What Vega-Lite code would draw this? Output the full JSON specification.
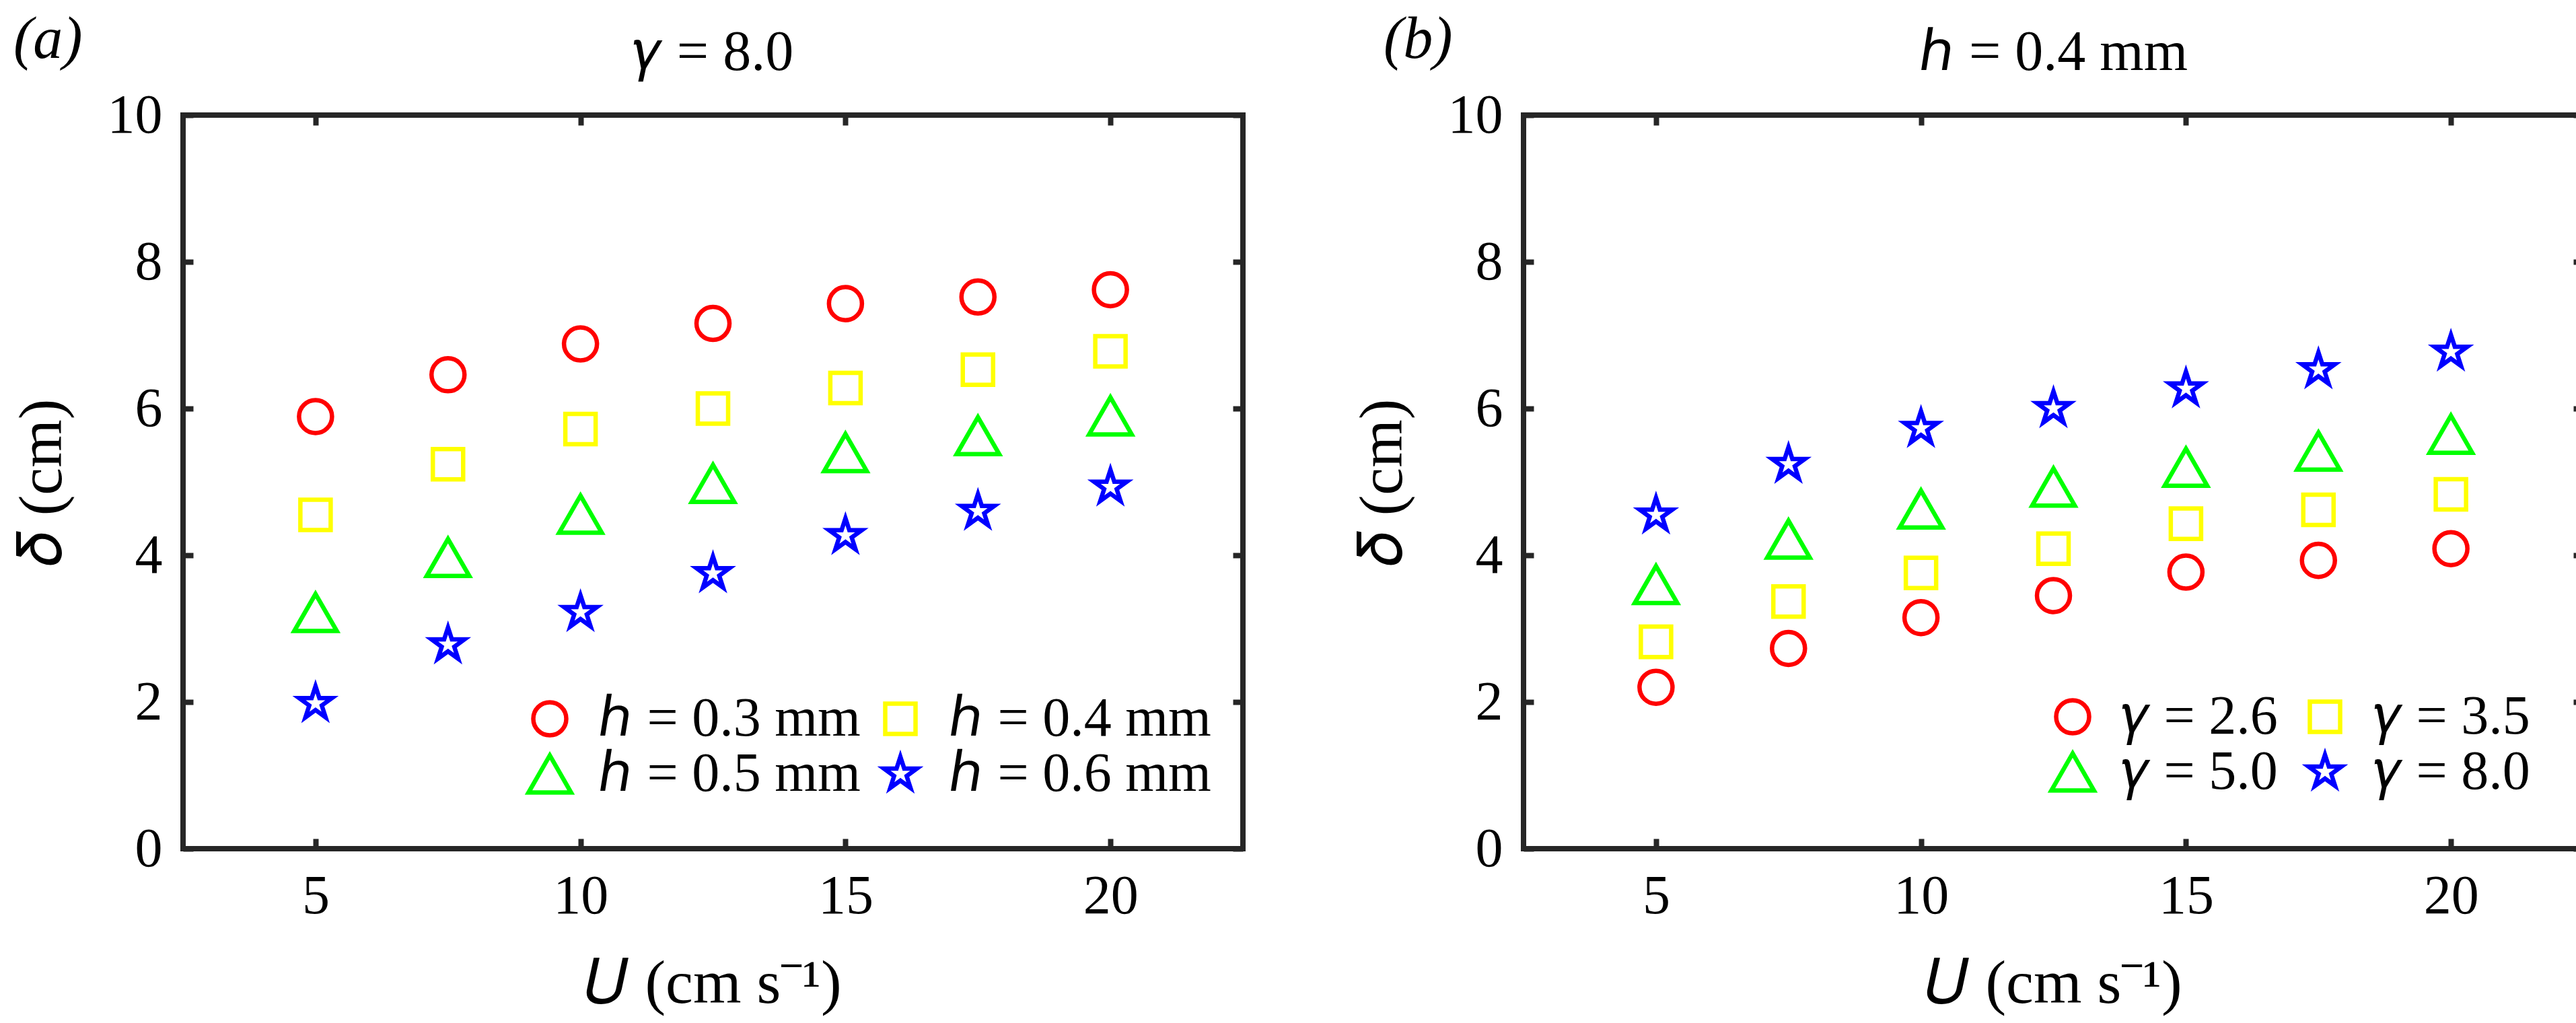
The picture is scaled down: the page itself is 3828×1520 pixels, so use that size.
{
  "$schema": "https://vega.github.io/schema/vega-lite/v6.json",
  "background": "white",
  "padding": {"left": 12, "top": 12, "right": 0, "bottom": 0},
  "spacing": 149,
  "datasets": {
    "a": [
      {"U": 5, "d": 5.89, "s": "ℎ = 0.3 mm"},
      {"U": 7.5, "d": 6.46, "s": "ℎ = 0.3 mm"},
      {"U": 10, "d": 6.88, "s": "ℎ = 0.3 mm"},
      {"U": 12.5, "d": 7.16, "s": "ℎ = 0.3 mm"},
      {"U": 15, "d": 7.43, "s": "ℎ = 0.3 mm"},
      {"U": 17.5, "d": 7.52, "s": "ℎ = 0.3 mm"},
      {"U": 20, "d": 7.62, "s": "ℎ = 0.3 mm"},
      {"U": 5, "d": 4.55, "s": "ℎ = 0.4 mm"},
      {"U": 7.5, "d": 5.24, "s": "ℎ = 0.4 mm"},
      {"U": 10, "d": 5.72, "s": "ℎ = 0.4 mm"},
      {"U": 12.5, "d": 6.0, "s": "ℎ = 0.4 mm"},
      {"U": 15, "d": 6.28, "s": "ℎ = 0.4 mm"},
      {"U": 17.5, "d": 6.53, "s": "ℎ = 0.4 mm"},
      {"U": 20, "d": 6.78, "s": "ℎ = 0.4 mm"},
      {"U": 5, "d": 3.22, "s": "ℎ = 0.5 mm"},
      {"U": 7.5, "d": 3.97, "s": "ℎ = 0.5 mm"},
      {"U": 10, "d": 4.56, "s": "ℎ = 0.5 mm"},
      {"U": 12.5, "d": 4.98, "s": "ℎ = 0.5 mm"},
      {"U": 15, "d": 5.4, "s": "ℎ = 0.5 mm"},
      {"U": 17.5, "d": 5.63, "s": "ℎ = 0.5 mm"},
      {"U": 20, "d": 5.9, "s": "ℎ = 0.5 mm"},
      {"U": 5, "d": 1.98, "s": "ℎ = 0.6 mm"},
      {"U": 7.5, "d": 2.78, "s": "ℎ = 0.6 mm"},
      {"U": 10, "d": 3.22, "s": "ℎ = 0.6 mm"},
      {"U": 12.5, "d": 3.75, "s": "ℎ = 0.6 mm"},
      {"U": 15, "d": 4.27, "s": "ℎ = 0.6 mm"},
      {"U": 17.5, "d": 4.6, "s": "ℎ = 0.6 mm"},
      {"U": 20, "d": 4.93, "s": "ℎ = 0.6 mm"}
    ],
    "b": [
      {"U": 5, "d": 2.2, "s": "𝛾 = 2.6"},
      {"U": 7.5, "d": 2.73, "s": "𝛾 = 2.6"},
      {"U": 10, "d": 3.15, "s": "𝛾 = 2.6"},
      {"U": 12.5, "d": 3.45, "s": "𝛾 = 2.6"},
      {"U": 15, "d": 3.77, "s": "𝛾 = 2.6"},
      {"U": 17.5, "d": 3.93, "s": "𝛾 = 2.6"},
      {"U": 20, "d": 4.09, "s": "𝛾 = 2.6"},
      {"U": 5, "d": 2.82, "s": "𝛾 = 3.5"},
      {"U": 7.5, "d": 3.37, "s": "𝛾 = 3.5"},
      {"U": 10, "d": 3.76, "s": "𝛾 = 3.5"},
      {"U": 12.5, "d": 4.09, "s": "𝛾 = 3.5"},
      {"U": 15, "d": 4.43, "s": "𝛾 = 3.5"},
      {"U": 17.5, "d": 4.62, "s": "𝛾 = 3.5"},
      {"U": 20, "d": 4.83, "s": "𝛾 = 3.5"},
      {"U": 5, "d": 3.6, "s": "𝛾 = 5.0"},
      {"U": 7.5, "d": 4.22, "s": "𝛾 = 5.0"},
      {"U": 10, "d": 4.63, "s": "𝛾 = 5.0"},
      {"U": 12.5, "d": 4.93, "s": "𝛾 = 5.0"},
      {"U": 15, "d": 5.2, "s": "𝛾 = 5.0"},
      {"U": 17.5, "d": 5.42, "s": "𝛾 = 5.0"},
      {"U": 20, "d": 5.65, "s": "𝛾 = 5.0"},
      {"U": 5, "d": 4.55, "s": "𝛾 = 8.0"},
      {"U": 7.5, "d": 5.24, "s": "𝛾 = 8.0"},
      {"U": 10, "d": 5.73, "s": "𝛾 = 8.0"},
      {"U": 12.5, "d": 6.0, "s": "𝛾 = 8.0"},
      {"U": 15, "d": 6.27, "s": "𝛾 = 8.0"},
      {"U": 17.5, "d": 6.53, "s": "𝛾 = 8.0"},
      {"U": 20, "d": 6.77, "s": "𝛾 = 8.0"}
    ]
  },
  "hconcat": [
    {
      "width": 1575,
      "height": 1090,
      "title": {"text": "(a)", "anchor": "start", "frame": "bounds", "offset": -68, "dx": 4, "fontSize": 88, "fontStyle": "italic"},
      "data": {"name": "a"},
      "layer": [
        {
          "mark": {"type": "point", "filled": false, "size": 4000, "strokeWidth": 6.5, "opacity": 1, "strokeMiterLimit": 10},
          "encoding": {
            "x": {"field": "U", "type": "quantitative", "scale": {"domain": [2.5, 22.5], "nice": false},
                  "axis": {"orient": "bottom", "values": [5, 10, 15, 20], "title": "𝑈 (cm s⁻¹)", "labelPadding": 45, "titlePadding": 44}},
            "y": {"field": "d", "type": "quantitative", "scale": {"domain": [0, 10], "nice": false},
                  "axis": {"orient": "left", "values": [0, 2, 4, 6, 8, 10], "title": "𝛿 (cm)", "labelPadding": 46, "titlePadding": 50}},
            "color": {"field": "s", "type": "nominal",
                      "scale": {"domain": ["ℎ = 0.3 mm", "ℎ = 0.4 mm", "ℎ = 0.5 mm", "ℎ = 0.6 mm"], "range": ["#FF0000", "#FFFF00", "#00FF00", "#0000FF"]},
                      "legend": {"orient": "none", "legendX": 504, "legendY": 856, "columns": 2, "direction": "horizontal", "columnPadding": 18}},
            "shape": {"field": "s", "type": "nominal",
                      "scale": {"domain": ["ℎ = 0.3 mm", "ℎ = 0.4 mm", "ℎ = 0.5 mm", "ℎ = 0.6 mm"],
                                "range": [
                                  "M0.775,0A0.775,0.775,0,1,1,-0.775,0A0.775,0.775,0,1,1,0.775,0Z",
                                  "M-0.712,-0.712L0.712,-0.712L0.712,0.712L-0.712,0.712Z",
                                  "M0,-0.87L1,0.87L-1,0.87Z",
                                  "M0,-0.81L0.1818,-0.2503L0.7704,-0.2503L0.2943,0.0956L0.4761,0.6553L0,0.3094L-0.4761,0.6553L-0.2943,0.0956L-0.7704,-0.2503L-0.1818,-0.2503Z"
                                ]},
                      "legend": {"orient": "none", "legendX": 504, "legendY": 856, "columns": 2, "direction": "horizontal", "columnPadding": 18}}
          }
        },
        {
          "mark": {"type": "point", "opacity": 0},
          "encoding": {
            "x": {"field": "U", "type": "quantitative",
                  "axis": {"orient": "top", "labels": false, "values": [5, 10, 15, 20], "title": "𝛾 = 8.0", "titleFontSize": 84, "titlePadding": 46}},
            "y": {"field": "d", "type": "quantitative",
                  "axis": {"orient": "right", "labels": false, "values": [0, 2, 4, 6, 8, 10], "title": null}}
          }
        }
      ]
    },
    {
      "width": 1575,
      "height": 1090,
      "title": {"text": "(b)", "anchor": "start", "frame": "bounds", "offset": -68, "dx": 48, "fontSize": 88, "fontStyle": "italic"},
      "data": {"name": "b"},
      "layer": [
        {
          "mark": {"type": "point", "filled": false, "size": 4000, "strokeWidth": 6.5, "opacity": 1, "strokeMiterLimit": 10},
          "encoding": {
            "x": {"field": "U", "type": "quantitative", "scale": {"domain": [2.5, 22.5], "nice": false},
                  "axis": {"orient": "bottom", "values": [5, 10, 15, 20], "title": "𝑈 (cm s⁻¹)", "labelPadding": 45, "titlePadding": 44}},
            "y": {"field": "d", "type": "quantitative", "scale": {"domain": [0, 10], "nice": false},
                  "axis": {"orient": "left", "values": [0, 2, 4, 6, 8, 10], "title": "𝛿 (cm)", "labelPadding": 46, "titlePadding": 50}},
            "color": {"field": "s", "type": "nominal",
                      "scale": {"domain": ["𝛾 = 2.6", "𝛾 = 3.5", "𝛾 = 5.0", "𝛾 = 8.0"], "range": ["#FF0000", "#FFFF00", "#00FF00", "#0000FF"]},
                      "legend": {"orient": "none", "legendX": 775, "legendY": 853, "columns": 2, "direction": "horizontal", "columnPadding": 29}},
            "shape": {"field": "s", "type": "nominal",
                      "scale": {"domain": ["𝛾 = 2.6", "𝛾 = 3.5", "𝛾 = 5.0", "𝛾 = 8.0"],
                                "range": [
                                  "M0.775,0A0.775,0.775,0,1,1,-0.775,0A0.775,0.775,0,1,1,0.775,0Z",
                                  "M-0.712,-0.712L0.712,-0.712L0.712,0.712L-0.712,0.712Z",
                                  "M0,-0.87L1,0.87L-1,0.87Z",
                                  "M0,-0.81L0.1818,-0.2503L0.7704,-0.2503L0.2943,0.0956L0.4761,0.6553L0,0.3094L-0.4761,0.6553L-0.2943,0.0956L-0.7704,-0.2503L-0.1818,-0.2503Z"
                                ]},
                      "legend": {"orient": "none", "legendX": 775, "legendY": 853, "columns": 2, "direction": "horizontal", "columnPadding": 29}}
          }
        },
        {
          "mark": {"type": "point", "opacity": 0},
          "encoding": {
            "x": {"field": "U", "type": "quantitative",
                  "axis": {"orient": "top", "labels": false, "values": [5, 10, 15, 20], "title": "ℎ = 0.4 mm", "titleFontSize": 84, "titlePadding": 46}},
            "y": {"field": "d", "type": "quantitative",
                  "axis": {"orient": "right", "labels": false, "values": [0, 2, 4, 6, 8, 10], "title": null}}
          }
        }
      ]
    }
  ],
  "resolve": {
    "scale": {"color": "independent", "shape": "independent"},
    "legend": {"color": "independent", "shape": "independent"}
  },
  "config": {
    "font": "Liberation Serif",
    "view": {"stroke": "#262626", "strokeWidth": 8},
    "axis": {
      "domain": false,
      "grid": false,
      "ticks": true,
      "tickSize": -15,
      "tickWidth": 8,
      "tickColor": "#262626",
      "labelFont": "Liberation Serif",
      "labelFontSize": 82,
      "labelColor": "black",
      "labelFlush": false,
      "labelOverlap": false,
      "titleFont": "Liberation Serif",
      "titleFontSize": 92,
      "titleFontWeight": "normal",
      "titleColor": "black"
    },
    "legend": {
      "title": null,
      "padding": 0,
      "rowPadding": 0,
      "labelFont": "Liberation Serif",
      "labelFontSize": 82,
      "labelColor": "black",
      "labelLimit": 0,
      "labelOffset": 32,
      "symbolSize": 4000,
      "symbolStrokeWidth": 6.5
    },
    "title": {
      "font": "Liberation Serif",
      "fontWeight": "normal",
      "color": "black"
    }
  }
}
